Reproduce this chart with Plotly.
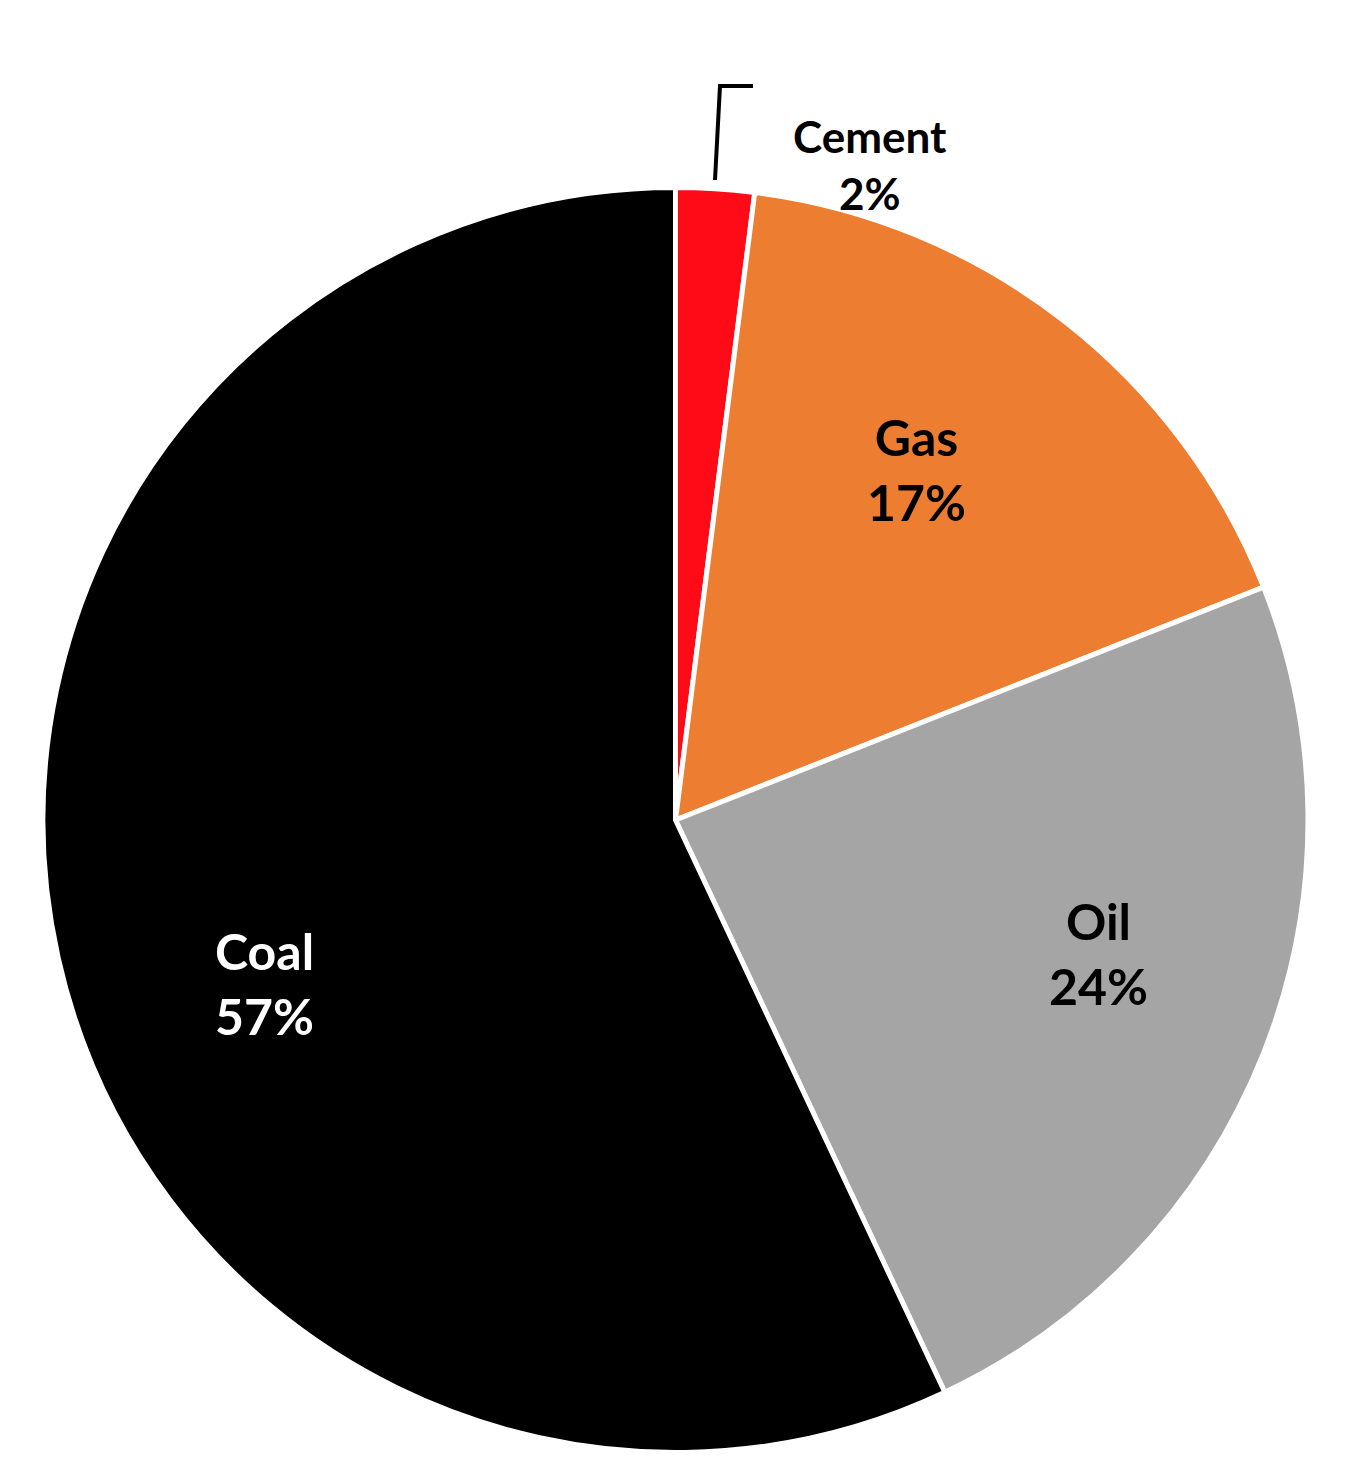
import plotly.graph_objects as go

labels = ["Cement", "Gas", "Oil", "Coal"]
values = [2, 17, 24, 57]
colors = ["#FF0A17", "#ED7D31", "#A5A5A5", "#000000"]

W, H = 1350, 1484
def px(x): return x / W
def py(y): return 1 - y / H

fig = go.Figure(go.Pie(
    labels=labels, values=values, sort=False, direction="clockwise", rotation=0,
    marker=dict(colors=colors, line=dict(color="white", width=5)),
    textinfo="none", hoverinfo="label+percent", showlegend=False,
    domain=dict(x=[px(35), px(1300)], y=[py(1445), py(179)]),
))

font = "Lato, Open Sans, sans-serif"
ann = [
    ("Cement<br>2%", 862, 100, "black", 44),
    ("Gas<br>17%", 960, 397, "black", 50),
    ("Oil<br>24%", 1142, 1010, "black", 50),
    ("Coal<br>57%", 205, 975, "white", 50),
]
annotations = [dict(text=f"<b>{t}</b>", x=px(x), y=py(y), xref="paper", yref="paper",
                    showarrow=False, font=dict(family=font, size=s, color=c))
               for t, x, y, c, s in ann]

fig.update_layout(
    width=W, height=H, margin=dict(l=0, r=0, t=0, b=0),
    paper_bgcolor="white", plot_bgcolor="white",
    annotations=annotations,
    shapes=[dict(type="path", xref="paper", yref="paper",
                 path=f"M {px(707)} {py(172)} L {px(712)} {py(78)} L {px(745)} {py(78)}",
                 line=dict(color="black", width=4))],
)
fig.write_html("out.html")
